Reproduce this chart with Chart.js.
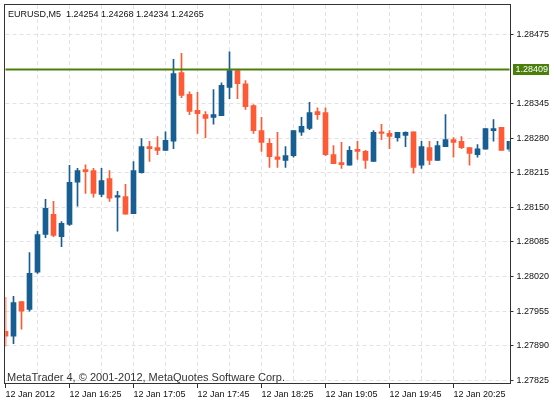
<!DOCTYPE html>
<html>
<head>
<meta charset="utf-8">
<script src="https://cdn.jsdelivr.net/npm/chart.js@4.4.1/dist/chart.umd.min.js"></script>
<style>
html,body{margin:0;padding:0;background:#fff;}
#wrap{width:554px;height:403px;position:relative;}
</style>
</head>
<body>
<div id="wrap"><canvas id="c"></canvas></div>
<script>
const categories = ["15:45","15:50","15:55","16:00","16:05","16:10","16:15","16:20",
"16:25","16:30","16:35","16:40","16:45","16:50","16:55","17:00",
"17:05","17:10","17:15","17:20","17:25","17:30","17:35","17:40",
"17:45","17:50","17:55","18:00","18:05","18:10","18:15","18:20",
"18:25","18:30","18:35","18:40","18:45","18:50","18:55","19:00",
"19:05","19:10","19:15","19:20","19:25","19:30","19:35","19:40",
"19:45","19:50","19:55","20:00","20:05","20:10","20:15","20:20",
"20:25","20:30","20:35","20:40","20:45","20:50","20:55","21:00"];

const openP = [1.27917,1.27908,1.27973,1.27958,1.28028,1.28099,1.28137,1.28095,1.28118,1.28197,1.28221,1.28219,1.28174,1.28204,1.28169,1.28170,
1.28138,1.28215,1.28264,1.28262,1.28257,1.28274,1.28403,1.28362,1.28332,1.28324,1.28319,1.28322,1.28375,1.28407,1.28382,1.28341,
1.28294,1.28270,1.28245,1.28238,1.28247,1.28291,1.28298,1.28330,1.28328,1.28249,1.28234,1.28229,1.28259,1.28255,1.28236,1.28292,
1.28289,1.28281,1.28285,1.28292,1.28229,1.28262,1.28238,1.28264,1.28277,1.28274,1.28262,1.28249,1.28259,1.28294,1.28300,1.28259];
const highP = [1.27981,1.27983,1.27973,1.28065,1.28105,1.28165,1.28161,1.28123,1.28229,1.28223,1.28230,1.28223,1.28223,1.28219,1.28180,1.28193,
1.28236,1.28279,1.28274,1.28283,1.28292,1.28428,1.28439,1.28367,1.28366,1.28330,1.28371,1.28384,1.28442,1.28407,1.28388,1.28343,
1.28319,1.28279,1.28291,1.28264,1.28294,1.28319,1.28347,1.28337,1.28337,1.28266,1.28272,1.28264,1.28274,1.28257,1.28294,1.28306,
1.28294,1.28291,1.28292,1.28292,1.28274,1.28274,1.28274,1.28324,1.28281,1.28283,1.28262,1.28268,1.28298,1.28315,1.28300,1.28274];
const lowP = [1.27889,1.27894,1.27921,1.27955,1.28026,1.28093,1.28095,1.28076,1.28116,1.28152,1.28176,1.28169,1.28170,1.28161,1.28105,1.28137,
1.28138,1.28214,1.28236,1.28249,1.28257,1.28260,1.28356,1.28324,1.28289,1.28281,1.28306,1.28322,1.28354,1.28354,1.28334,1.28289,
1.28255,1.28225,1.28225,1.28225,1.28244,1.28285,1.28296,1.28315,1.28247,1.28232,1.28223,1.28229,1.28240,1.28223,1.28236,1.28277,
1.28260,1.28274,1.28264,1.28214,1.28223,1.28230,1.28238,1.28264,1.28244,1.28260,1.28229,1.28244,1.28259,1.28274,1.28257,1.28255];
const closeP = [1.27908,1.27971,1.27955,1.28026,1.28099,1.28148,1.28097,1.28120,1.28197,1.28219,1.28217,1.28176,1.28200,1.28167,1.28172,1.28137,
1.28219,1.28264,1.28260,1.28257,1.28276,1.28401,1.28360,1.28330,1.28326,1.28317,1.28324,1.28379,1.28407,1.28382,1.28339,1.28294,
1.28272,1.28245,1.28240,1.28247,1.28294,1.28302,1.28328,1.28324,1.28249,1.28232,1.28230,1.28257,1.28255,1.28238,1.28291,1.28289,
1.28283,1.28291,1.28291,1.28225,1.28264,1.28238,1.28266,1.28277,1.28272,1.28262,1.28251,1.28260,1.28298,1.28298,1.28257,1.28274];

const yTicks = [1.27825,1.27890,1.27955,1.28020,1.28085,1.28150,1.28215,1.28280,1.28345,1.28475];
const xTickAt = ["15:45","16:25","17:05","17:45","18:25","19:05","19:45","20:25"];
const xTickLabels = ["12 Jan 2012","12 Jan 16:25","12 Jan 17:05","12 Jan 17:45","12 Jan 18:25","12 Jan 19:05","12 Jan 19:45","12 Jan 20:25"];
const currentPrice = 1.28409;
const titleText = "EURUSD,M5  1.24254 1.24268 1.24234 1.24265";
const watermarkText = "MetaTrader 4, \u00A9 2001-2012, MetaQuotes Software Corp.";

const BULL = '#175E92';
const BEAR = '#FF5A36';
const GREEN = '#4A7F0C';
const candleColors = openP.map((o,i) => closeP[i] >= o ? BULL : BEAR);

const FONT = '"Liberation Sans", Arial, sans-serif';

const overlay = {
  id: 'overlay',
  afterDraw(chart) {
    const ctx = chart.ctx, a = chart.chartArea, ys = chart.scales.y;
    ctx.save();
    // frame
    ctx.strokeStyle = '#333333';
    ctx.lineWidth = 1;
    ctx.strokeRect(4.5, 4.5, Math.round(a.right) - 4 + 0.0, Math.round(a.bottom) - 4);
    // title
    ctx.fillStyle = '#111111';
    ctx.font = '9px ' + FONT;
    ctx.textBaseline = 'alphabetic';
    ctx.textAlign = 'left';
    ctx.fillText(titleText, 8, 16.5);
    // watermark
    ctx.fillStyle = '#333333';
    ctx.font = '11px ' + FONT;
    ctx.fillText(watermarkText, 7, 380.5);
    // current price label
    const yp = ys.getPixelForValue(currentPrice);
    ctx.fillStyle = GREEN;
    ctx.fillRect(513, Math.round(yp) - 5, 36, 11);
    ctx.fillStyle = '#ffffff';
    ctx.font = '9px ' + FONT;
    ctx.textBaseline = 'middle';
    ctx.fillText(currentPrice.toFixed(5), 515.5, Math.round(yp) + 0.5);
    ctx.restore();
  }
};

new Chart(document.getElementById('c'), {
  type: 'bar',
  data: {
    labels: categories,
    datasets: [
      {
        type: 'line',
        data: categories.map(() => currentPrice),
        borderColor: GREEN,
        borderWidth: 2,
        pointRadius: 0,
        order: 0
      },
      {
        data: openP.map((o,i) => [o, closeP[i]]),
        backgroundColor: candleColors,
        borderWidth: 0,
        barThickness: 5,
        minBarLength: 1,
        grouped: false,
        order: 1
      },
      {
        data: lowP.map((l,i) => [l, highP[i]]),
        backgroundColor: candleColors,
        borderWidth: 0,
        barThickness: 1,
        grouped: false,
        order: 2
      }
    ]
  },
  options: {
    responsive: true,
    maintainAspectRatio: false,
    animation: false,
    events: [],
    layout: { padding: { left: 5.5, top: 5, right: 0, bottom: 0 } },
    plugins: { legend: { display: false }, tooltip: { enabled: false }, title: { display: false } },
    scales: {
      x: {
        type: 'category',
        offset: false,
        border: { display: false, dash: [4,3] },
        grid: {
          offset: false,
          color: ctx => (ctx.index % 4 === 0 && ctx.index > 0) ? '#e2e2e2' : 'rgba(0,0,0,0)',
          tickColor: ctx => (ctx.index % 8 === 0) ? '#333333' : 'rgba(0,0,0,0)',
          tickLength: 5,
          lineWidth: 1
        },
        ticks: {
          autoSkip: false,
          maxRotation: 0,
          minRotation: 0,
          align: 'start',
          padding: 1,
          color: '#111111',
          font: { family: FONT, size: 9 },
          callback: function(v, i) {
            const lab = this.getLabelForValue(v);
            const k = xTickAt.indexOf(lab);
            return k >= 0 ? xTickLabels[k] : '';
          }
        },
        afterFit: s => { s.height = 20; s.paddingLeft = 0; s.paddingRight = 0; }
      },
      y: {
        position: 'right',
        min: 1.27820,
        max: 1.28530,
        border: { display: false, dash: [4,3] },
        grid: {
          color: '#e2e2e2',
          tickColor: '#333333',
          tickLength: 4,
          lineWidth: 1
        },
        ticks: {
          padding: 3,
          color: '#111111',
          font: { family: FONT, size: 9 },
          callback: v => Number(v).toFixed(5)
        },
        afterBuildTicks: s => { s.ticks = yTicks.map(v => ({ value: v })); },
        afterFit: s => { s.width = 44.5; s.paddingTop = 0; s.paddingBottom = 0; }
      }
    }
  },
  plugins: [overlay]
});
</script>
</body>
</html>
